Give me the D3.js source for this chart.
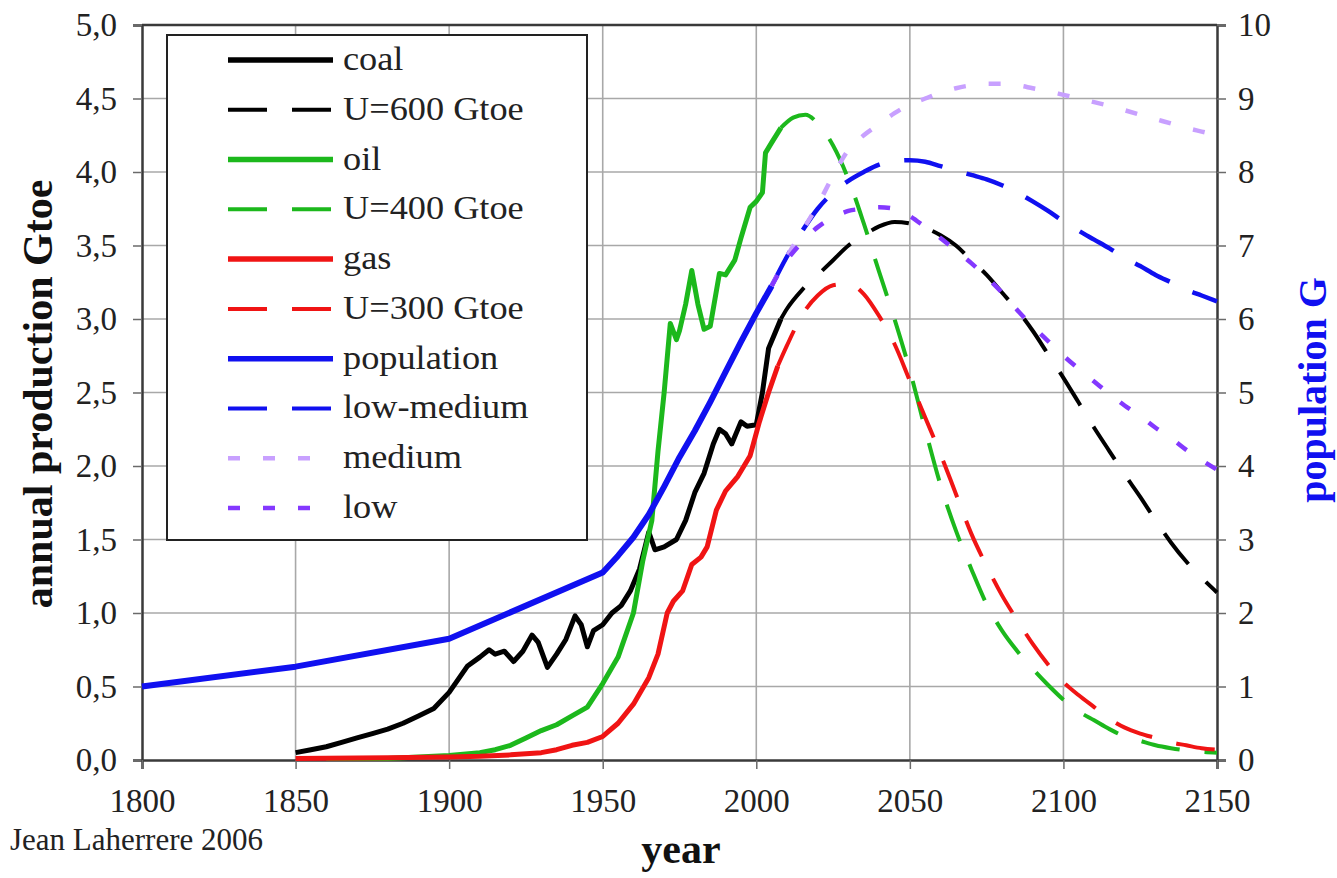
<!DOCTYPE html>
<html><head><meta charset="utf-8">
<script src="https://cdn.jsdelivr.net/npm/d3@7"></script>
<style>html,body{margin:0;padding:0;background:#fff}svg{display:block}</style>
</head><body>
<svg id="c" width="1337" height="878"></svg>
<script>
// ---------- DATA ----------
const xTicks = [1800,1850,1900,1950,2000,2050,2100,2150];
const leftTicks = [0,0.5,1,1.5,2,2.5,3,3.5,4,4.5,5];
const leftTickLabels = ["0,0","0,5","1,0","1,5","2,0","2,5","3,0","3,5","4,0","4,5","5,0"];
const rightTicks = [0,1,2,3,4,5,6,7,8,9,10];

const coalYears = [1850,1855,1860,1865,1870,1875,1880,1885,1890,1895,1900,1903,1906,1910,1913,1915,1918,1921,1924,1927,1929,1932,1935,1938,1941,1943,1945,1947,1950,1953,1956,1959,1962,1965,1967,1970,1974,1977,1980,1983,1986,1988,1990,1992,1995,1997,2000,2002,2004,2006,2008];
const coalValues = [0.05,0.07,0.09,0.12,0.15,0.18,0.21,0.25,0.30,0.35,0.46,0.55,0.64,0.70,0.75,0.72,0.74,0.67,0.74,0.85,0.80,0.63,0.72,0.82,0.98,0.92,0.77,0.88,0.92,1.00,1.05,1.15,1.30,1.55,1.43,1.45,1.50,1.63,1.82,1.95,2.15,2.25,2.22,2.15,2.30,2.27,2.28,2.50,2.80,2.90,3.00];

const coalU600Years = [2008,2010,2015,2020,2025,2030,2035,2040,2045,2050,2055,2060,2065,2070,2075,2080,2085,2090,2095,2100,2105,2110,2115,2120,2125,2130,2135,2140,2145,2150];
const coalU600Values = [3.00,3.07,3.20,3.30,3.40,3.50,3.57,3.63,3.66,3.65,3.62,3.57,3.50,3.40,3.30,3.18,3.06,2.92,2.76,2.60,2.43,2.26,2.10,1.94,1.79,1.63,1.48,1.35,1.24,1.14];

const oilYears = [1860,1880,1900,1910,1915,1920,1925,1930,1935,1940,1945,1950,1955,1960,1963,1966,1968,1970,1972,1974,1975,1977,1979,1981,1983,1985,1988,1990,1993,1995,1998,2000,2002,2003,2005,2008];
const oilValues = [0.01,0.01,0.03,0.05,0.07,0.10,0.15,0.20,0.24,0.30,0.36,0.52,0.70,1.00,1.35,1.63,2.10,2.50,2.97,2.86,2.92,3.10,3.33,3.10,2.93,2.95,3.31,3.30,3.40,3.55,3.76,3.80,3.86,4.13,4.20,4.30];

const oilU400Years = [2008,2012,2016,2020,2025,2030,2035,2040,2045,2050,2055,2060,2065,2070,2075,2080,2085,2090,2095,2100,2105,2110,2115,2120,2125,2130,2135,2140,2145,2150];
const oilU400Values = [4.30,4.37,4.39,4.33,4.18,3.95,3.65,3.32,3.00,2.65,2.25,1.87,1.56,1.30,1.06,0.88,0.74,0.62,0.51,0.41,0.33,0.27,0.21,0.16,0.13,0.10,0.08,0.065,0.055,0.05];

const gasYears = [1850,1880,1900,1910,1920,1930,1935,1940,1945,1950,1955,1960,1965,1968,1971,1973,1976,1979,1982,1984,1987,1990,1994,1998,2001,2004,2007];
const gasValues = [0.01,0.015,0.02,0.025,0.035,0.05,0.07,0.10,0.12,0.16,0.25,0.38,0.56,0.72,1.00,1.08,1.15,1.33,1.38,1.45,1.70,1.83,1.93,2.07,2.30,2.50,2.68];

const gasU300Years = [2007,2010,2015,2020,2025,2030,2035,2040,2045,2050,2055,2060,2065,2070,2075,2080,2085,2090,2095,2100,2105,2110,2115,2120,2125,2130,2135,2140,2145,2150];
const gasU300Values = [2.68,2.82,3.03,3.16,3.23,3.24,3.17,3.02,2.83,2.58,2.33,2.08,1.81,1.54,1.32,1.12,0.95,0.79,0.65,0.53,0.44,0.36,0.28,0.22,0.18,0.15,0.12,0.10,0.08,0.07];

const popYears = [1800,1850,1900,1950,1955,1960,1965,1970,1975,1980,1985,1990,1995,2000,2005];
const popValues = [1.00,1.27,1.65,2.55,2.78,3.03,3.34,3.72,4.12,4.48,4.87,5.28,5.69,6.08,6.45];

const scenYears = [2005,2010,2015,2020,2025,2030,2035,2040,2045,2050,2055,2060,2065,2070,2075,2080,2085,2090,2095,2100,2105,2110,2115,2120,2125,2130,2135,2140,2145,2150];
const lowMediumValues = [6.45,6.85,7.20,7.50,7.72,7.88,8.00,8.10,8.15,8.16,8.14,8.08,8.02,7.96,7.90,7.82,7.72,7.60,7.47,7.33,7.20,7.08,6.96,6.83,6.72,6.60,6.50,6.40,6.32,6.24];
const mediumValues = [6.45,6.85,7.20,7.55,7.95,8.30,8.50,8.65,8.80,8.92,9.00,9.08,9.14,9.18,9.20,9.20,9.18,9.14,9.10,9.05,9.00,8.95,8.90,8.84,8.78,8.72,8.66,8.60,8.55,8.50];
const lowValues = [6.45,6.80,7.05,7.25,7.38,7.47,7.50,7.52,7.50,7.40,7.25,7.10,6.93,6.76,6.57,6.36,6.12,5.90,5.70,5.50,5.32,5.15,4.98,4.82,4.68,4.52,4.38,4.22,4.08,3.95];

const legendLabels = ["coal","U=600 Gtoe","oil","U=400 Gtoe","gas","U=300 Gtoe","population","low-medium","medium","low"];

// ---------- STYLES ----------
const C = {black:"#000", green:"#1cb81c", red:"#f01414", blue:"#1010f0", medium:"#c8a0ff", low:"#8438ff"};
const DASH = "39,25", DOT = "12,23";

const series = [
  {years:coalYears, vals:coalValues, axis:"L", color:C.black, w:5, dash:null, curve:d3.curveLinear},
  {years:coalU600Years, vals:coalU600Values, axis:"L", color:C.black, w:4, dash:DASH, curve:d3.curveMonotoneX},
  {years:oilYears, vals:oilValues, axis:"L", color:C.green, w:5, dash:null, curve:d3.curveLinear},
  {years:oilU400Years, vals:oilU400Values, axis:"L", color:C.green, w:4, dash:DASH, curve:d3.curveMonotoneX},
  {years:gasYears, vals:gasValues, axis:"L", color:C.red, w:5, dash:null, curve:d3.curveLinear},
  {years:gasU300Years, vals:gasU300Values, axis:"L", color:C.red, w:4, dash:DASH, curve:d3.curveMonotoneX},
  {years:popYears, vals:popValues, axis:"R", color:C.blue, w:6, dash:null, curve:d3.curveLinear},
  {years:scenYears, vals:lowMediumValues, axis:"R", color:C.blue, w:4.5, dash:DASH, curve:d3.curveMonotoneX},
  {years:scenYears, vals:mediumValues, axis:"R", color:C.medium, w:4.5, dash:DOT, curve:d3.curveMonotoneX},
  {years:scenYears, vals:lowValues, axis:"R", color:C.low, w:4.5, dash:DOT, curve:d3.curveMonotoneX}
];

// ---------- CHART ----------
const svg = d3.select("#c");
const x = d3.scaleLinear().domain([1800,2150]).range([142,1217]);
const yL = d3.scaleLinear().domain([0,5]).range([760,25]);
const yR = d3.scaleLinear().domain([0,10]).range([760,25]);
const serif = "'Liberation Serif','Times New Roman',serif";

// grid
const grid = svg.append("g");
grid.selectAll(".gx").data(xTicks.slice(1,-1)).join("line")
  .attr("x1",d=>x(d)).attr("x2",d=>x(d)).attr("y1",yL(0)).attr("y2",yL(5))
  .attr("stroke","#a8a8a8").attr("stroke-width",1.6);
grid.selectAll(".gy").data(leftTicks.slice(1,-1)).join("line")
  .attr("y1",d=>yL(d)).attr("y2",d=>yL(d)).attr("x1",x(1800)).attr("x2",x(2150))
  .attr("stroke","#a8a8a8").attr("stroke-width",1.6);

// axes
const axL = d3.axisLeft(yL).tickValues(leftTicks).tickSize(9).tickPadding(16).tickFormat((d,i)=>leftTickLabels[i]);
const axR = d3.axisRight(yR).tickValues(rightTicks).tickSize(9).tickPadding(12).tickFormat(d3.format("d"));
const axB = d3.axisBottom(x).tickValues(xTicks).tickSize(9).tickPadding(20).tickFormat(d3.format("d"));
function styleAxis(g){
  g.attr("font-family",serif).attr("font-size",33);
  g.select(".domain").attr("stroke","#3a3a3a").attr("stroke-width",2.5);
  g.selectAll(".tick line").attr("stroke","#6a6a6a").attr("stroke-width",1.5);
  g.selectAll(".tick text").attr("font-family",serif).attr("font-size",33).attr("fill","#222");
}
svg.append("g").attr("transform",`translate(${x(1800)},0)`).call(axL).call(styleAxis);
svg.append("g").attr("transform",`translate(${x(2150)},0)`).call(axR).call(styleAxis);
svg.append("g").attr("transform",`translate(0,${yL(0)})`).call(axB).call(styleAxis);
svg.append("line").attr("x1",x(1800)).attr("x2",x(2150)).attr("y1",yL(5)).attr("y2",yL(5))
  .attr("stroke","#3a3a3a").attr("stroke-width",2.5);

// lines
const lines = svg.append("g");
series.forEach(s=>{
  const yy = s.axis==="L"?yL:yR;
  const pts = s.years.map((yr,i)=>[yr,s.vals[i]]);
  const ln = d3.line().x(d=>x(d[0])).y(d=>yy(d[1])).curve(s.curve);
  lines.append("path").attr("d",ln(pts)).attr("fill","none")
    .attr("stroke",s.color).attr("stroke-width",s.w)
    .attr("stroke-dasharray",s.dash).attr("stroke-linejoin","round");
});

// legend
const lg = svg.append("g");
lg.append("rect").attr("x",167).attr("y",35).attr("width",420).attr("height",505)
  .attr("fill","#fff").attr("stroke","#222").attr("stroke-width",2);
const rowY = d3.scaleLinear().domain([0,9]).range([60,508]);
series.forEach((s,i)=>{
  const cy = rowY(i);
  lg.append("line").attr("x1",228).attr("x2",333).attr("y1",cy).attr("y2",cy)
    .attr("stroke",s.color).attr("stroke-width",s.dash? (s.dash===DOT?4.5:4):5.5)
    .attr("stroke-dasharray",s.dash);
  lg.append("text").attr("transform",`translate(343,${cy+10}) scale(1.1,1)`).text(legendLabels[i])
    .attr("font-family",serif).attr("font-size",33).attr("fill","#222");
});

// titles
svg.append("text").attr("transform","translate(52,394) rotate(-90)").attr("text-anchor","middle")
  .attr("font-family",serif).attr("font-weight","bold").attr("font-size",42).attr("fill","#111")
  .text("annual production Gtoe");
svg.append("text").attr("transform","translate(1326,390) rotate(-90)").attr("text-anchor","middle")
  .attr("font-family",serif).attr("font-weight","bold").attr("font-size",40).attr("fill","#1010f0")
  .text("population G");
svg.append("text").attr("x",681).attr("y",863).attr("text-anchor","middle")
  .attr("font-family",serif).attr("font-weight","bold").attr("font-size",42).attr("fill","#111")
  .text("year");
svg.append("text").attr("x",10).attr("y",850)
  .attr("font-family",serif).attr("font-size",31).attr("fill","#222")
  .text("Jean Laherrere 2006");
</script>
</body></html>
